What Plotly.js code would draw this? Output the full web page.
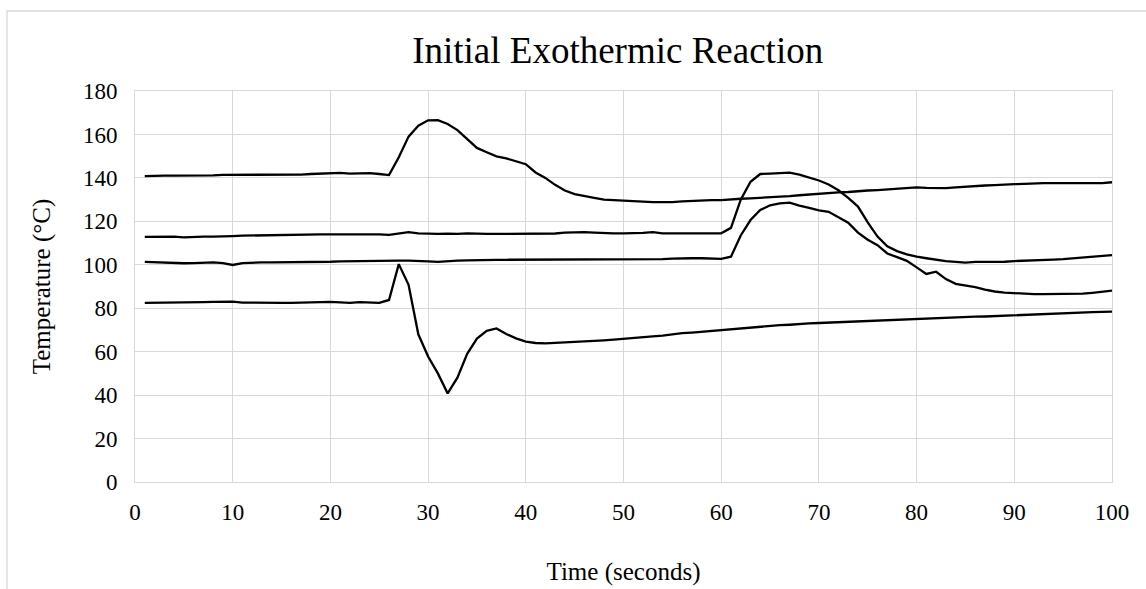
<!DOCTYPE html>
<html>
<head>
<meta charset="utf-8">
<script src="https://cdn.plot.ly/plotly-3.0.1.min.js"></script>
<style>
html,body{margin:0;padding:0;background:#fff;}
#chart{width:1146px;height:589px;}
</style>
</head>
<body>
<div id="chart"></div>
<script>
const chartTitle = "Initial Exothermic Reaction";
const xTitle = "Time (seconds)";
const yTitle = "Temperature (°C)";

const timeSeconds = [1,2,3,4,5,6,7,8,9,10,11,12,13,14,15,16,17,18,19,20,21,22,23,24,25,26,27,28,29,30,31,32,33,34,35,36,37,38,39,40,41,42,43,44,45,46,47,48,49,50,51,52,53,54,55,56,57,58,59,60,61,62,63,64,65,66,67,68,69,70,71,72,73,74,75,76,77,78,79,80,81,82,83,84,85,86,87,88,89,90,91,92,93,94,95,96,97,98,99,100];

const sensorA = [140.8,141,141,141,141,141,141,141.2,141.4,141.4,141.4,141.4,141.4,141.4,141.4,141.4,141.5,141.8,142,142,142.3,142,142.2,142.2,141.8,141.3,149.5,159,164,166.5,166.6,164.8,162,157.8,153.8,151.8,149.9,149,147.6,146.3,142.5,140,136.8,134.2,132.5,131.5,130.8,130,129.6,129.5,129.3,129,128.8,128.8,128.8,129.2,129.5,129.8,129.8,129.8,130.2,130.4,130.6,130.8,131,131.3,131.6,132,132.4,132.7,133,133.3,133.5,134,134.2,134.4,134.7,134.8,135,135.6,135.4,135.3,135.3,135.6,136,136.3,136.5,136.7,137,137.1,137.2,137.5,137.6,137.6,137.6,137.6,137.6,137.6,137.6,138];

const sensorB = [112.8,112.8,112.8,113,112.6,112.9,113,113,113,113.2,113.4,113.5,113.7,113.7,113.7,113.8,114,114,114,114,114,114,114.1,114.2,114,113.8,114.3,115,114.5,114.2,114.2,114.3,114.2,114.5,114.2,114.2,114.2,114.2,114.2,114.2,114.2,114.2,114.4,114.8,115,115,114.8,114.5,114.5,114.5,114.5,114.7,115,114.5,114.5,114.5,114.5,114.5,114.5,114.5,117,130,138.2,141.8,142,142.2,142.4,141.5,140.2,138.8,137,134.3,130.8,126.8,119.5,113,108.5,106.3,104.8,103.7,103,102.2,101.7,101.3,101,101.3,101.3,101.3,101.4,101.7,101.8,101.9,102.2,102.4,102.6,103,103.3,103.7,104.1,104.4];

const sensorC = [101.3,101.1,101,100.8,100.7,100.8,100.9,101.1,100.8,99.9,100.8,101.1,101.1,101.1,101.1,101.2,101.3,101.4,101.4,101.4,101.6,101.7,101.8,101.8,101.9,101.9,101.9,101.9,101.9,101.6,101.3,101.7,101.9,102,102.2,102.2,102.3,102.3,102.3,102.3,102.4,102.4,102.4,102.4,102.5,102.5,102.5,102.5,102.5,102.5,102.5,102.5,102.5,102.6,102.8,103,103,103,102.8,102.7,103.7,113.5,120.6,125.2,127.4,128.3,128.6,127.2,126.2,125,124.4,121.8,119.4,114.8,111.5,109,105.2,103.5,101.8,98.8,95.8,96.8,93.4,91.2,90.5,89.7,88.6,87.7,87.2,86.9,86.7,86.5,86.5,86.5,86.5,86.5,86.7,87.1,87.5,88.1];

const sensorD = [82.5,82.5,82.5,82.5,82.5,82.7,82.8,82.9,82.9,83,82.6,82.5,82.5,82.5,82.5,82.5,82.5,82.5,82.8,82.9,82.6,82.5,82.8,82.5,82.5,83.8,100.3,90.8,68,57.8,50,40.8,48,59,66,69.6,70.7,68.1,66.1,64.6,64,63.8,64,64.1,64.3,64.6,64.9,65.2,65.5,65.8,66.2,66.7,67,67.4,68,68.5,68.8,69.2,69.6,70,70.3,70.7,71,71.5,72,72.2,72.4,72.8,73,73.2,73.4,73.5,73.7,73.9,74.1,74.2,74.5,74.6,74.7,74.9,75.2,75.5,75.7,75.9,76,76.1,76.2,76.4,76.6,76.9,77,77.2,77.3,77.5,77.7,77.9,78.1,78.2,78.3,78.4];

const xTicks = [0,10,20,30,40,50,60,70,80,90,100];
const yTicks = [0,20,40,60,80,100,120,140,160,180];

const serif = "Liberation Serif, Times New Roman, serif";
const lineStyle = {color: '#000000', width: 2.3};

const traces = [sensorA, sensorB, sensorC, sensorD].map(function (vals) {
  return {x: timeSeconds, y: vals, type: 'scatter', mode: 'lines', line: lineStyle, hoverinfo: 'skip'};
});

const grid = '#d9d9d9';
const layout = {
  width: 1146, height: 589,
  paper_bgcolor: '#ffffff', plot_bgcolor: '#ffffff',
  margin: {l: 135, r: 34, t: 91, b: 107},
  showlegend: false,
  font: {family: serif, color: '#000000'},
  title: {text: chartTitle, font: {family: serif, size: 37, color: '#000000'},
          x: 0.539, xanchor: 'center', y: 0.915, yanchor: 'middle', xref: 'container', yref: 'container'},
  xaxis: {
    range: [0, 100], tickvals: xTicks, ticktext: xTicks.map(String),
    showgrid: true, gridcolor: grid, gridwidth: 1,
    showline: true, linecolor: grid, linewidth: 1, mirror: true,
    zeroline: false, ticks: '', ticklabelstandoff: 9,
    tickfont: {family: serif, size: 23, color: '#000000'},
    title: {text: xTitle, font: {family: serif, size: 25, color: '#000000'}, standoff: 38},
    automargin: false, fixedrange: true
  },
  yaxis: {
    range: [0, 180], tickvals: yTicks, ticktext: yTicks.map(String),
    showgrid: true, gridcolor: grid, gridwidth: 1,
    showline: true, linecolor: grid, linewidth: 1, mirror: true,
    zeroline: false, ticks: '', ticklabelstandoff: 12,
    tickfont: {family: serif, size: 23, color: '#000000'},
    title: {text: yTitle, font: {family: serif, size: 25, color: '#000000'}, standoff: 25},
    automargin: false, fixedrange: true
  },
  shapes: [{
    type: 'rect', xref: 'paper', yref: 'paper',
    x0: -0.131, x1: 2, y0: -2, y1: 1.2046,
    line: {color: grid, width: 1.3}, fillcolor: 'rgba(0,0,0,0)', layer: 'below'
  }]
};

Plotly.newPlot('chart', traces, layout, {displayModeBar: false, staticPlot: true});
</script>
</body>
</html>
